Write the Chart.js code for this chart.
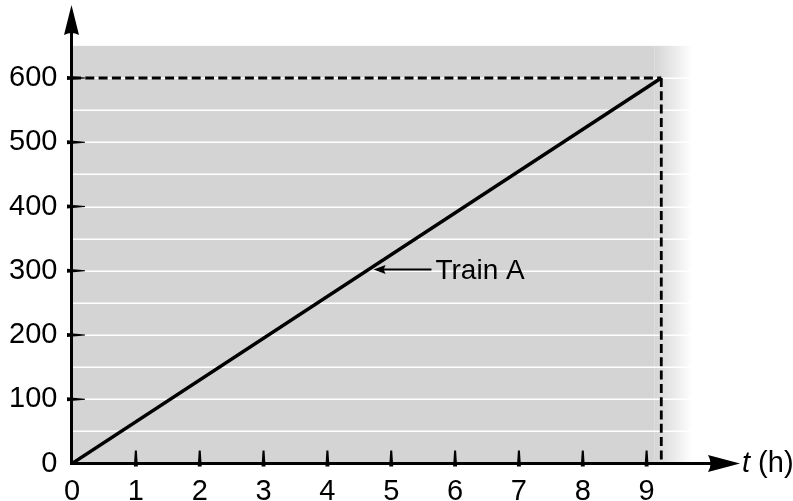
<!DOCTYPE html>
<html>
<head>
<meta charset="utf-8">
<script src="https://cdn.jsdelivr.net/npm/chart.js@4"></script>
<style>
html,body{margin:0;padding:0;background:#fff;}
#c{display:block;}
</style>
</head>
<body>
<canvas id="c" width="793" height="501"></canvas>
<script>
// ---- data ----
const trainT = [0, 9.23];          // hours
const trainD = [0, 600];           // distance
const xTicks = [0,1,2,3,4,5,6,7,8,9];
const yTicks = [0,100,200,300,400,500,600];
const gridLines = [50,100,150,200,250,300,350,400,450,500,550,600];
const seriesLabel = 'Train A';
const xAxisTitle = 't';
const xAxisUnit = ' (h)';

const FONT = "'Liberation Sans', Arial, Helvetica, sans-serif";
const PX_PER_Y = 0.6425;   // pixels per distance unit
const PX_PER_X = 64;       // pixels per hour

const bgPlugin = {
  id: 'bg',
  beforeDatasetsDraw(chart) {
    const {ctx} = chart;
    const xs = chart.scales.x, ys = chart.scales.y;
    const x0 = xs.getPixelForValue(0);
    const xf = xs.getPixelForValue(9.12);
    const xe = xs.getPixelForValue(9.72);
    const yt = ys.getPixelForValue(650);
    const yb = ys.getPixelForValue(0);
    ctx.save();
    const g = ctx.createLinearGradient(xf, 0, xe, 0);
    g.addColorStop(0, '#d4d4d4');
    g.addColorStop(1, 'rgba(212,212,212,0)');
    ctx.fillStyle = '#d4d4d4';
    ctx.fillRect(x0, yt, xf - x0, yb - yt);
    ctx.fillStyle = g;
    ctx.fillRect(xf, yt, xe - xf, yb - yt);
    ctx.lineWidth = 1.5;
    ctx.strokeStyle = '#ffffff';
    for (const v of gridLines) {
      const y = Math.round(ys.getPixelForValue(v)) + 0.25;
      ctx.beginPath();
      ctx.moveTo(x0, y);
      ctx.lineTo(xe, y);
      ctx.stroke();
    }
    ctx.restore();
  },
  afterDatasetsDraw(chart) {
    const {ctx} = chart;
    const xs = chart.scales.x, ys = chart.scales.y;
    const ax = xs.getPixelForValue(0) - 0.5;
    const ay = ys.getPixelForValue(0);
    ctx.save();
    ctx.fillStyle = '#000';
    ctx.strokeStyle = '#000';
    ctx.lineWidth = 3;
    ctx.beginPath();
    ctx.moveTo(ax, ay + 1.5);
    ctx.lineTo(ax, 30);
    ctx.stroke();
    ctx.beginPath();
    ctx.moveTo(ax, 5);
    ctx.lineTo(ax + 7.5, 35);
    ctx.quadraticCurveTo(ax, 31, ax - 7.5, 35);
    ctx.closePath();
    ctx.fill();
    ctx.beginPath();
    ctx.moveTo(ax - 1.5, ay);
    ctx.lineTo(715, ay);
    ctx.stroke();
    ctx.beginPath();
    ctx.moveTo(740, ay);
    ctx.lineTo(708, ay - 8.5);
    ctx.quadraticCurveTo(713, ay, 708, ay + 8.5);
    ctx.closePath();
    ctx.fill();
    for (const v of yTicks) {
      if (v === 0) continue;
      const y = ys.getPixelForValue(v);
      ctx.beginPath();
      ctx.moveTo(67, y - 2);
      ctx.lineTo(85, y - 0.6);
      ctx.lineTo(85, y + 0.6);
      ctx.lineTo(67, y + 2);
      ctx.closePath();
      ctx.fill();
    }
    for (const v of xTicks) {
      if (v === 0) continue;
      const x = xs.getPixelForValue(v);
      ctx.beginPath();
      ctx.moveTo(x - 1, ay - 13);
      ctx.lineTo(x + 1, ay - 13);
      ctx.lineTo(x + 2, ay + 3);
      ctx.lineTo(x - 2, ay + 3);
      ctx.closePath();
      ctx.fill();
    }
    ctx.textBaseline = 'alphabetic';
    ctx.textAlign = 'left';
    ctx.font = 'italic 29px ' + FONT;
    ctx.fillText(xAxisTitle, 742, 472);
    const tw = ctx.measureText(xAxisTitle).width;
    ctx.font = '29px ' + FONT;
    ctx.fillText(xAxisUnit, 742 + tw, 472);
    const tipV = 302;
    const tipX = xs.getPixelForValue(trainT[1] * tipV / trainD[1]) + 5;
    const tipY = ys.getPixelForValue(tipV);
    const tailX = xs.getPixelForValue(5.63);
    ctx.lineWidth = 2;
    ctx.beginPath();
    ctx.moveTo(tipX + 8, tipY);
    ctx.lineTo(tailX, tipY);
    ctx.stroke();
    ctx.beginPath();
    ctx.moveTo(tipX, tipY);
    ctx.lineTo(tipX + 12, tipY - 4.5);
    ctx.lineTo(tipX + 10, tipY);
    ctx.lineTo(tipX + 12, tipY + 4.5);
    ctx.closePath();
    ctx.fill();
    ctx.font = '28px ' + FONT;
    ctx.fillText(seriesLabel, tailX + 4, tipY + 10);
    ctx.restore();
  }
};

const chart = new Chart(document.getElementById('c'), {
  type: 'scatter',
  data: {
    datasets: [
      {
        label: 'dash-h',
        data: [{x: 0, y: trainD[1]}, {x: trainT[1], y: trainD[1]}],
        showLine: true, borderColor: '#000', borderWidth: 2.8, borderDash: [9, 4.3],
        pointRadius: 0, fill: false
      },
      {
        label: 'dash-v',
        data: [{x: trainT[1], y: trainD[1]}, {x: trainT[1], y: 0}],
        showLine: true, borderColor: '#000', borderWidth: 2.8, borderDash: [9, 4.3],
        pointRadius: 0, fill: false
      },
      {
        label: seriesLabel,
        data: trainT.map((t, i) => ({x: t, y: trainD[i]})),
        showLine: true, borderColor: '#000', borderWidth: 3.5,
        pointRadius: 0, fill: false, borderCapStyle: 'butt'
      }
    ]
  },
  options: {
    responsive: false,
    animation: false,
    devicePixelRatio: 1,
    layout: {padding: 0},
    plugins: {legend: {display: false}, tooltip: {enabled: false}},
    scales: {
      x: {
        type: 'linear', min: 0, max: 721 / PX_PER_X,
        afterFit(s) { s.height = 37.5; },
        afterBuildTicks(s) { s.ticks = xTicks.map(v => ({value: v})); },
        grid: {display: false}, border: {display: false},
        ticks: {font: {size: 29, family: FONT}, color: '#000', padding: 3, maxRotation: 0, autoSkip: false}
      },
      y: {
        type: 'linear', min: 0, max: 700,
        afterFit(s) { s.width = 72; },
        afterBuildTicks(s) { s.ticks = yTicks.map(v => ({value: v})); },
        grid: {display: false}, border: {display: false},
        ticks: {font: {size: 29, family: FONT}, color: '#000', padding: 6.5, autoSkip: false}
      }
    }
  },
  plugins: [bgPlugin]
});
// second pass: fit scale ranges to the measured chart area
const ca = chart.chartArea;
chart.options.scales.y.max = (ca.bottom - ca.top) / PX_PER_Y;
chart.options.scales.x.max = (ca.right - ca.left) / PX_PER_X;
chart.update();
</script>
</body>
</html>
